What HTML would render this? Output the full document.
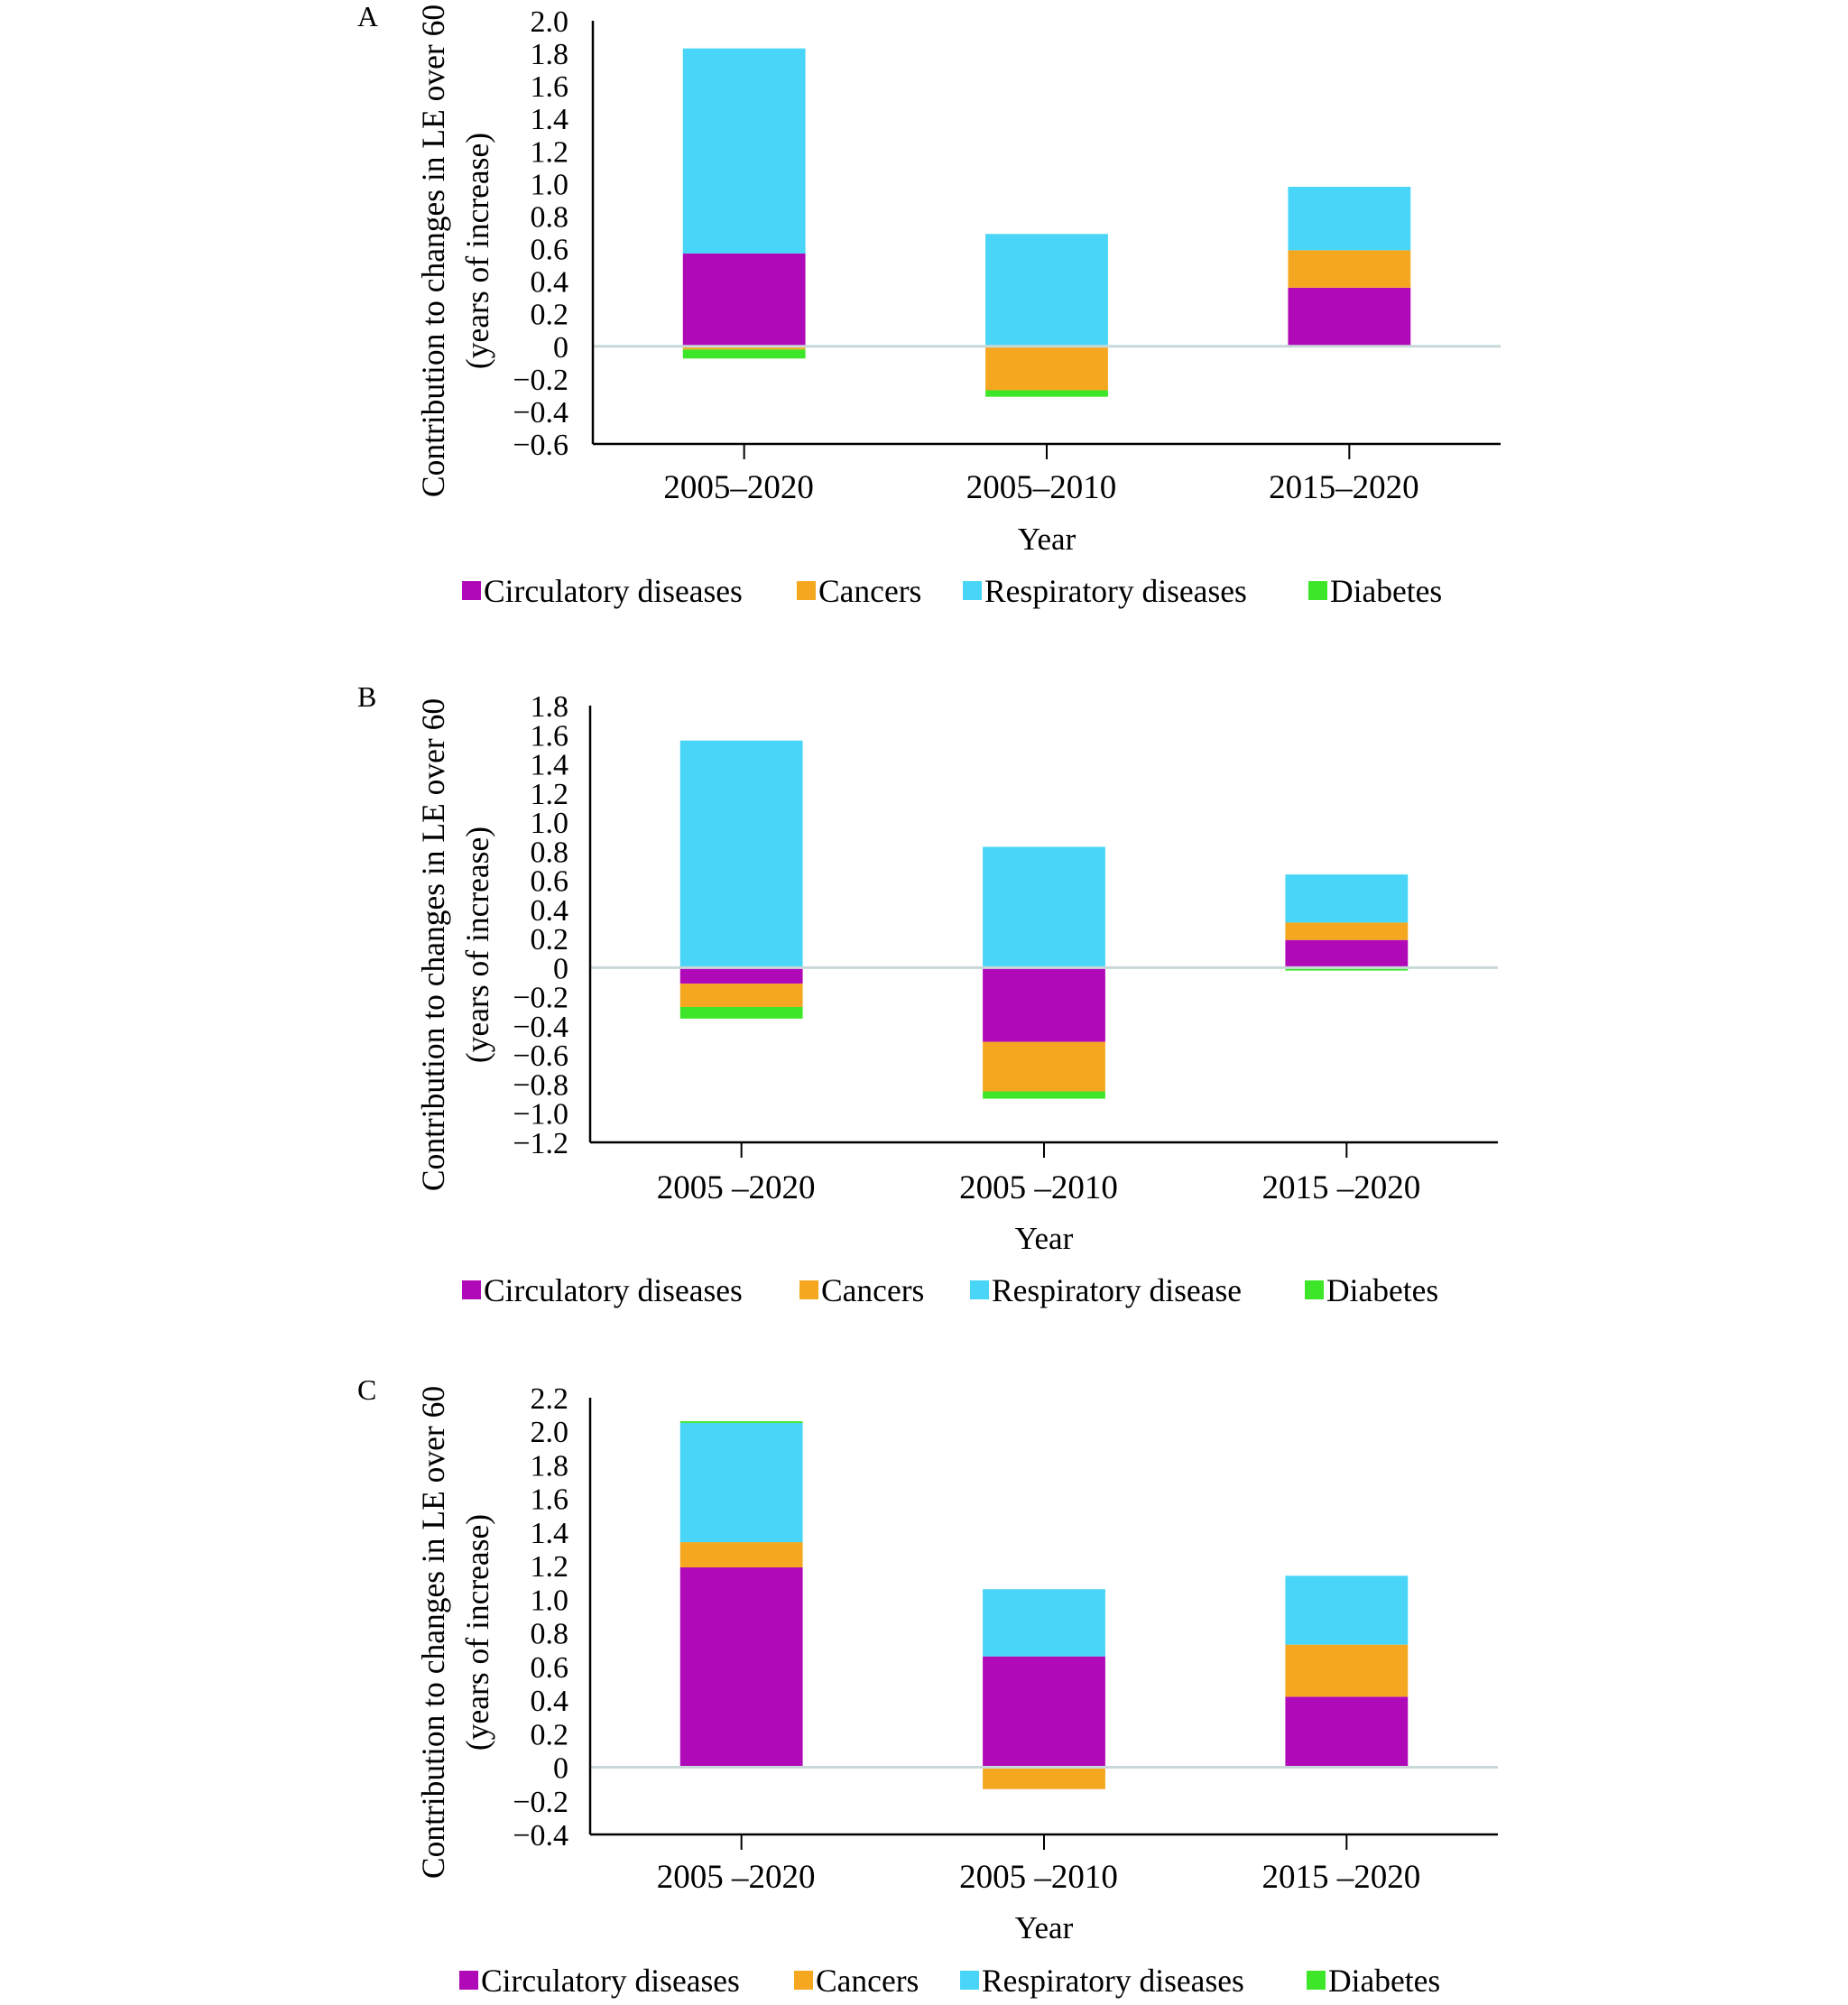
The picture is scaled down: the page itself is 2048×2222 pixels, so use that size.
<!DOCTYPE html>
<html><head><meta charset="utf-8"><style>
body{margin:0;background:#fff}
svg{display:block;font-family:"Liberation Serif",serif}
</style></head><body>
<svg id="chart" width="2048" height="2222" viewBox="0 0 2048 2222"></svg>
<script>
const categories = ["2005–2020","2005–2010","2015–2020"];
const categoriesBC = ["2005 –2020","2005 –2010","2015 –2020"];
const seriesNames = ["Circulatory diseases","Cancers","Respiratory diseases","Diabetes"];
const seriesNamesB = ["Circulatory diseases","Cancers","Respiratory disease","Diabetes"];
const colors = ["#b00ab8","#f5a81f","#48d5f8","#3ee62a"];
// panel A values
const circA = [0.57, 0, 0.36];
const cancerA = [-0.02, -0.27, 0.23];
const respA = [1.26, 0.69, 0.39];
const diabA = [-0.055, -0.04, 0];
const ticksA = [2.0,1.8,1.6,1.4,1.2,1.0,0.8,0.6,0.4,0.2,0,-0.2,-0.4,-0.6];
// panel B
const circB = [-0.11, -0.51, 0.19];
const cancerB = [-0.16, -0.34, 0.12];
const respB = [1.56, 0.83, 0.33];
const diabB = [-0.08, -0.05, -0.02];
const ticksB = [1.8,1.6,1.4,1.2,1.0,0.8,0.6,0.4,0.2,0,-0.2,-0.4,-0.6,-0.8,-1.0,-1.2];
// panel C
const circC = [1.19, 0.66, 0.42];
const cancerC = [0.15, -0.13, 0.31];
const respC = [0.71, 0.40, 0.41];
const diabC = [0.01, 0, 0];
const ticksC = [2.2,2.0,1.8,1.6,1.4,1.2,1.0,0.8,0.6,0.4,0.2,0,-0.2,-0.4];

const NS="http://www.w3.org/2000/svg";
const svg=document.getElementById('chart');
function mk(tag,attrs,parent,text){const e=document.createElementNS(NS,tag);for(const k in attrs)e.setAttribute(k,attrs[k]);if(text!==undefined)e.textContent=text;(parent||svg).appendChild(e);return e;}

function panel(cfg){
  const g=mk('g',{});
  
  
  const x0=cfg.x0,x1=cfg.x1,yTop=cfg.yTop,yBot=cfg.yBot;
  const vmax=cfg.ticks[0],vmin=cfg.ticks[cfg.ticks.length-1];
  const y=v=>yTop+(vmax-v)/(vmax-vmin)*(yBot-yTop);
  const band=(x1-x0)/cfg.cats.length;
  const xc=i=>x0+band*(i+0.5);
  const bw=band*0.405;
  const L=mk('text',{x:396,y:cfg.letterY,'font-size':32,'dominant-baseline':'hanging'},g,cfg.letter);
  
  
  cfg.ticks.forEach(t=>{
    const tt=mk('text',{x:630,y:y(t)+12,'font-size':34,'text-anchor':'end'},g,t===0?'0':(t<0?'−'+Math.abs(t).toFixed(1):t.toFixed(1)));
    
    
  });
  const series=cfg.series;
  cfg.cats.forEach((c,i)=>{
    let pos=0,neg=0;
    series.forEach((s,k)=>{
      const v=s[i]; if(!v)return;
      let a,b;
      if(v>0){a=pos;b=pos+v;pos=b;}else{a=neg;b=neg+v;neg=b;}
      const r=mk('rect',{x:xc(i)-bw/2,y:Math.min(y(a),y(b)),width:bw,height:Math.abs(y(a)-y(b)),fill:colors[k]},g);
      
      
    });
    const tk=mk('line',{x1:xc(i),x2:xc(i),y1:yBot,y2:yBot+17,stroke:'#000','stroke-width':2},g);
    
    
    const cl=mk('text',{x:xc(i)-6,y:cfg.catY+13,'font-size':37,'text-anchor':'middle'},g,c);
    
    
  });
  const z=mk('line',{x1:x0,x2:x1,y1:y(0),y2:y(0),stroke:'#c8d8d8','stroke-width':3},g);
  
  
  const ay=mk('line',{x1:x0,x2:x0,y1:yTop,y2:yBot,stroke:'#000','stroke-width':2.5},g);
  
  
  const ax=mk('line',{x1:x0,x2:x1,y1:yBot,y2:yBot,stroke:'#000','stroke-width':2.5},g);
  
  
  const yl=mk('text',{x:(x0+x1)/2,y:cfg.yearY+12,'font-size':35,'text-anchor':'middle'},g,'Year');
  
  
  const t1=mk('text',{transform:`translate(492,${cfg.yMid}) rotate(-90)`,'font-size':35.5,'text-anchor':'middle'},g,'Contribution to changes in LE over 60');
  
  
  const t2=mk('text',{transform:`translate(541,${cfg.yMid}) rotate(-90)`,'font-size':35.5,'text-anchor':'middle'},g,'(years of increase)');
  
  
  cfg.names.forEach((n,k)=>{
    const sq=mk('rect',{x:cfg.legX[k],y:cfg.legY-11,width:21,height:21,fill:colors[k]},g);
    
    
    const lt=mk('text',{x:cfg.legX[k]+24,y:cfg.legY+12,'font-size':35.5},g,n);
    
    
  });
}
panel({letter:'A',letterY:6,x0:657,x1:1663,yTop:23,yBot:492,ticks:ticksA,cats:categories,series:[circA,cancerA,respA,diabA],catY:539,yearY:597,legY:655,yMid:278,names:seriesNames,legX:[512,883,1067,1450]});
panel({letter:'B',letterY:760,x0:654,x1:1660,yTop:782,yBot:1266,ticks:ticksB,cats:categoriesBC,series:[circB,cancerB,respB,diabB],catY:1315,yearY:1372,legY:1430,yMid:1047,names:seriesNamesB,legX:[512,886,1075,1446]});
panel({letter:'C',letterY:1528,x0:654,x1:1660,yTop:1549,yBot:2033,ticks:ticksC,cats:categoriesBC,series:[circC,cancerC,respC,diabC],catY:2079,yearY:2136,legY:2195,yMid:1809,names:seriesNames,legX:[509,880,1064,1448]});
</script>
</body></html>
